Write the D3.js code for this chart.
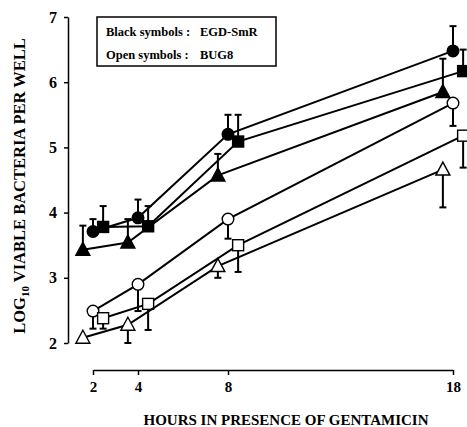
<!DOCTYPE html>
<html>
<head>
<meta charset="utf-8">
<script src="https://cdn.jsdelivr.net/npm/d3@7"></script>
<style>
  html, body { margin: 0; padding: 0; background: #fff; }
  svg { display: block; }
  text { font-family: "Liberation Serif", "Times New Roman", serif; font-weight: bold; fill: #000; }
</style>
</head>
<body>
<svg id="chart" width="467" height="427"></svg>
<script>
// ---- data ----
const hours = [2, 4, 8, 18];
const xTickLabels = ["2", "4", "8", "18"];
const yTickValues = [2, 3, 4, 5, 6, 7];

// EGD-SmR (black symbols), error bars drawn upward
const egdCircle   = [3.71, 3.92, 5.20, 6.48];
const egdCircleSd = [0.19, 0.28, 0.30, 0.38];
const egdSquare   = [3.78, 3.79, 5.09, 6.17];
const egdSquareSd = [0.32, 0.31, 0.41, 0.33];
const egdTri      = [3.43, 3.54, 4.57, 5.85];
const egdTriSd    = [0.37, 0.36, 0.33, 0.51];

// BUG8 (open symbols), error bars drawn downward
const bugCircle   = [2.49, 2.90, 3.90, 5.68];
const bugCircleSd = [0.27, 0.41, 0.30, 0.35];
const bugSquare   = [2.38, 2.60, 3.50, 5.18];
const bugSquareSd = [0.16, 0.40, 0.41, 0.49];
const bugTri      = [2.08, 2.28, 3.18, 4.66];
const bugTriSd    = [0.00, 0.28, 0.18, 0.58];

const legendLines = [["Black symbols :", "EGD-SmR"], ["Open symbols :", "BUG8"]];

// ---- build series ----
const series = [
  { shape: "circle",   filled: true,  dodge: 0,     dir: -1, v: egdCircle, sd: egdCircleSd },
  { shape: "square",   filled: true,  dodge: 0.45,  dir: -1, v: egdSquare, sd: egdSquareSd },
  { shape: "triangle", filled: true,  dodge: -0.45, dir: -1, v: egdTri,    sd: egdTriSd },
  { shape: "circle",   filled: false, dodge: 0,     dir: 1,  v: bugCircle, sd: bugCircleSd },
  { shape: "square",   filled: false, dodge: 0.45,  dir: 1,  v: bugSquare, sd: bugSquareSd },
  { shape: "triangle", filled: false, dodge: -0.45, dir: 1,  v: bugTri,    sd: bugTriSd },
];

const svg = d3.select("#chart");
const x = d3.scaleLinear().domain([2, 18]).range([93, 453]);
const y = d3.scaleLinear().domain([2, 7]).range([343, 17]);

// y axis
const yAxis = svg.append("g").attr("transform", "translate(68,0)")
  .call(d3.axisLeft(y).tickValues(yTickValues).tickFormat(d3.format("d")).tickSize(4).tickSizeOuter(0).tickPadding(7));
yAxis.attr("font-family", null);
yAxis.selectAll("path, line").attr("stroke", "#000").attr("stroke-width", 1.5);
yAxis.selectAll("text").style("font-size", "16px");

// x axis
const xAxis = svg.append("g").attr("transform", "translate(0,370)")
  .call(d3.axisBottom(x).tickValues(hours).tickFormat((d, i) => xTickLabels[i]).tickSize(5).tickSizeOuter(0).tickPadding(6));
xAxis.attr("font-family", null);
xAxis.selectAll("path, line").attr("stroke", "#000").attr("stroke-width", 1.5);
xAxis.selectAll("text").style("font-size", "15px");

// axis titles
svg.append("text")
  .attr("x", 286).attr("y", 425).attr("text-anchor", "middle")
  .style("font-size", "15px")
  .text("HOURS IN PRESENCE OF GENTAMICIN");

const yt = svg.append("text")
  .attr("transform", "translate(25,186) rotate(-90)")
  .attr("text-anchor", "middle")
  .style("font-size", "16.5px");
yt.append("tspan").text("LOG");
yt.append("tspan").attr("dy", 4).style("font-size", "11px").text("10");
yt.append("tspan").attr("dy", -4).text(" VIABLE BACTERIA PER WELL");

// lines, error bars, symbols
const line = d3.line().x(d => x(d.t)).y(d => y(d.v));
series.forEach(s => {
  const pts = hours.map((h, i) => ({ t: h + s.dodge, v: s.v[i], sd: s.sd[i] }));
  svg.append("path").datum(pts).attr("d", line)
    .attr("fill", "none").attr("stroke", "#000").attr("stroke-width", 2);
  const g = svg.append("g");
  pts.forEach(p => {
    if (p.sd > 0) {
      const y0 = y(p.v);
      const end = y(p.v - s.dir * p.sd);
      g.append("line").attr("x1", x(p.t)).attr("x2", x(p.t)).attr("y1", y0).attr("y2", end)
        .attr("stroke", "#000").attr("stroke-width", 2);
      g.append("line").attr("x1", x(p.t) - 3.5).attr("x2", x(p.t) + 3.5).attr("y1", end).attr("y2", end)
        .attr("stroke", "#000").attr("stroke-width", 2);
    }
  });
  pts.forEach(p => {
    const cx = x(p.t), cy = y(p.v);
    const fill = s.filled ? "#000" : "#fff";
    if (s.shape === "circle") {
      g.append("circle").attr("cx", cx).attr("cy", cy).attr("r", 5.8)
        .attr("fill", fill).attr("stroke", "#000").attr("stroke-width", 1.4);
    } else if (s.shape === "square") {
      g.append("rect").attr("x", cx - 5.5).attr("y", cy - 5.5).attr("width", 11).attr("height", 11)
        .attr("fill", fill).attr("stroke", "#000").attr("stroke-width", 1.4);
    } else {
      g.append("path").attr("d", `M${cx},${cy - 7.5}L${cx + 7},${cy + 5.5}L${cx - 7},${cy + 5.5}Z`)
        .attr("fill", fill).attr("stroke", "#000").attr("stroke-width", 1.4);
    }
  });
});

// legend box
svg.append("rect").attr("x", 97).attr("y", 17).attr("width", 179).attr("height", 49)
  .attr("fill", "#fff").attr("stroke", "#000").attr("stroke-width", 1.5);
legendLines.forEach((l, i) => {
  svg.append("text").attr("x", 106).attr("y", 36 + i * 23).style("font-size", "12.5px").text(l[0]);
  svg.append("text").attr("x", 200).attr("y", 36 + i * 23).style("font-size", "12.5px").text(l[1]);
});
</script>
</body>
</html>
